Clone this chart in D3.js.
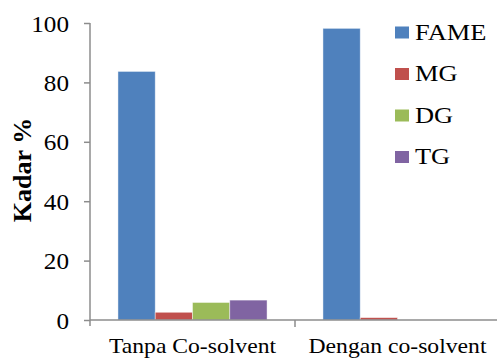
<!DOCTYPE html>
<html>
<head>
<meta charset="utf-8">
<script src="https://cdn.jsdelivr.net/npm/d3@7"></script>
<style>
  html, body { margin: 0; padding: 0; background: #fff; }
  svg { display: block; }
  text { font-family: "Liberation Serif", "Times New Roman", serif; fill: #000; }
</style>
</head>
<body>
<svg id="chart" width="497" height="358"></svg>
<script>
// Composition of the product (%) with and without co-solvent
const categories = ["Tanpa Co-solvent", "Dengan co-solvent"];
const seriesNames = ["FAME", "MG", "DG", "TG"];
const fame = [83.7, 98.2];
const mg = [2.6, 0.8];
const dg = [5.9, 0];
const tg = [6.7, 0];
const seriesColors = ["#4F81BD", "#C0504D", "#9BBB59", "#8064A2"];
const yTicks = [0, 20, 40, 60, 80, 100];

const values = [fame, mg, dg, tg];
const rows = categories.map((c, i) => ({
  category: c,
  items: seriesNames.map((s, j) => ({ key: s, value: values[j][i], color: seriesColors[j] }))
}));

const svg = d3.select("#chart");
const plot = { left: 90, right: 500, top: 23, bottom: 320 };
const axisColor = "#8c8c8c";

const y = d3.scaleLinear().domain([0, 100]).range([plot.bottom, plot.top]);
const x0 = d3.scaleBand().domain(categories).range([plot.left, plot.right]).paddingInner(0).paddingOuter(0);
const x1 = d3.scaleBand().domain(seriesNames).range([0, x0.bandwidth()]).paddingInner(0).paddingOuter(0.75);

// bars
const groups = svg.append("g").selectAll("g").data(rows).join("g")
  .attr("transform", d => `translate(${x0(d.category)},0)`);
groups.selectAll("rect").data(d => d.items).join("rect")
  .attr("x", d => x1(d.key))
  .attr("y", d => y(d.value))
  .attr("width", x1.bandwidth())
  .attr("height", d => y(0) - y(d.value))
  .attr("fill", d => d.color)
  .attr("stroke", "rgba(255,255,255,0.55)")
  .attr("stroke-width", 0.8);

// y axis
const yAxis = svg.append("g")
  .attr("transform", `translate(${plot.left},0)`)
  .call(d3.axisLeft(y).tickValues(yTicks).tickSize(6).tickPadding(15).tickSizeOuter(0));
yAxis.select(".domain").remove();
yAxis.append("line")
  .attr("x1", 0).attr("x2", 0).attr("y1", plot.top).attr("y2", plot.bottom + 6)
  .attr("stroke", axisColor).attr("stroke-width", 1.5);
yAxis.selectAll(".tick line").attr("stroke", axisColor).attr("stroke-width", 1.5);
yAxis.selectAll(".tick text")
  .style("font-family", '"Liberation Serif", "Times New Roman", serif')
  .style("font-size", "24px").attr("fill", "#000")
  .attr("dy", null)
  .attr("x", null)
  .attr("transform", "translate(-21,8) scale(1.05,1)");

// x axis
const xAxis = svg.append("g")
  .attr("transform", `translate(0,${plot.bottom})`);
xAxis.append("line")
  .attr("x1", plot.left).attr("x2", plot.right).attr("y1", 0).attr("y2", 0)
  .attr("stroke", axisColor).attr("stroke-width", 1.5);
xAxis.selectAll(".cat-tick").data(categories.slice(1)).join("line")
  .attr("class", "cat-tick")
  .attr("x1", d => x0(d)).attr("x2", d => x0(d))
  .attr("y1", 0).attr("y2", 7)
  .attr("stroke", axisColor).attr("stroke-width", 1.5);
xAxis.selectAll(".cat-label").data(categories).join("text")
  .attr("class", "cat-label")
  .attr("transform", d => `translate(${x0(d) + x0.bandwidth() / 2},33) scale(1.1,1)`)
  .attr("text-anchor", "middle")
  .style("font-size", "21.5px")
  .text(d => d);

// y axis title
svg.append("text")
  .attr("transform", "translate(31,170) rotate(-90)")
  .attr("text-anchor", "middle")
  .style("font-size", "26px")
  .style("font-weight", "bold")
  .text("Kadar %");

// legend
const legend = svg.append("g").attr("transform", "translate(395,0)");
const legendY = d3.scalePoint().domain(seriesNames).range([32.5, 157]);
const li = legend.selectAll("g").data(seriesNames).join("g")
  .attr("transform", d => `translate(0,${legendY(d)})`);
li.append("rect")
  .attr("x", 0).attr("y", -6).attr("width", 14).attr("height", 12)
  .attr("fill", (d, i) => seriesColors[i]);
li.append("text")
  .attr("transform", "translate(20,7) scale(1.1,1)")
  .style("font-size", "24px")
  .text(d => d);
</script>
</body>
</html>
